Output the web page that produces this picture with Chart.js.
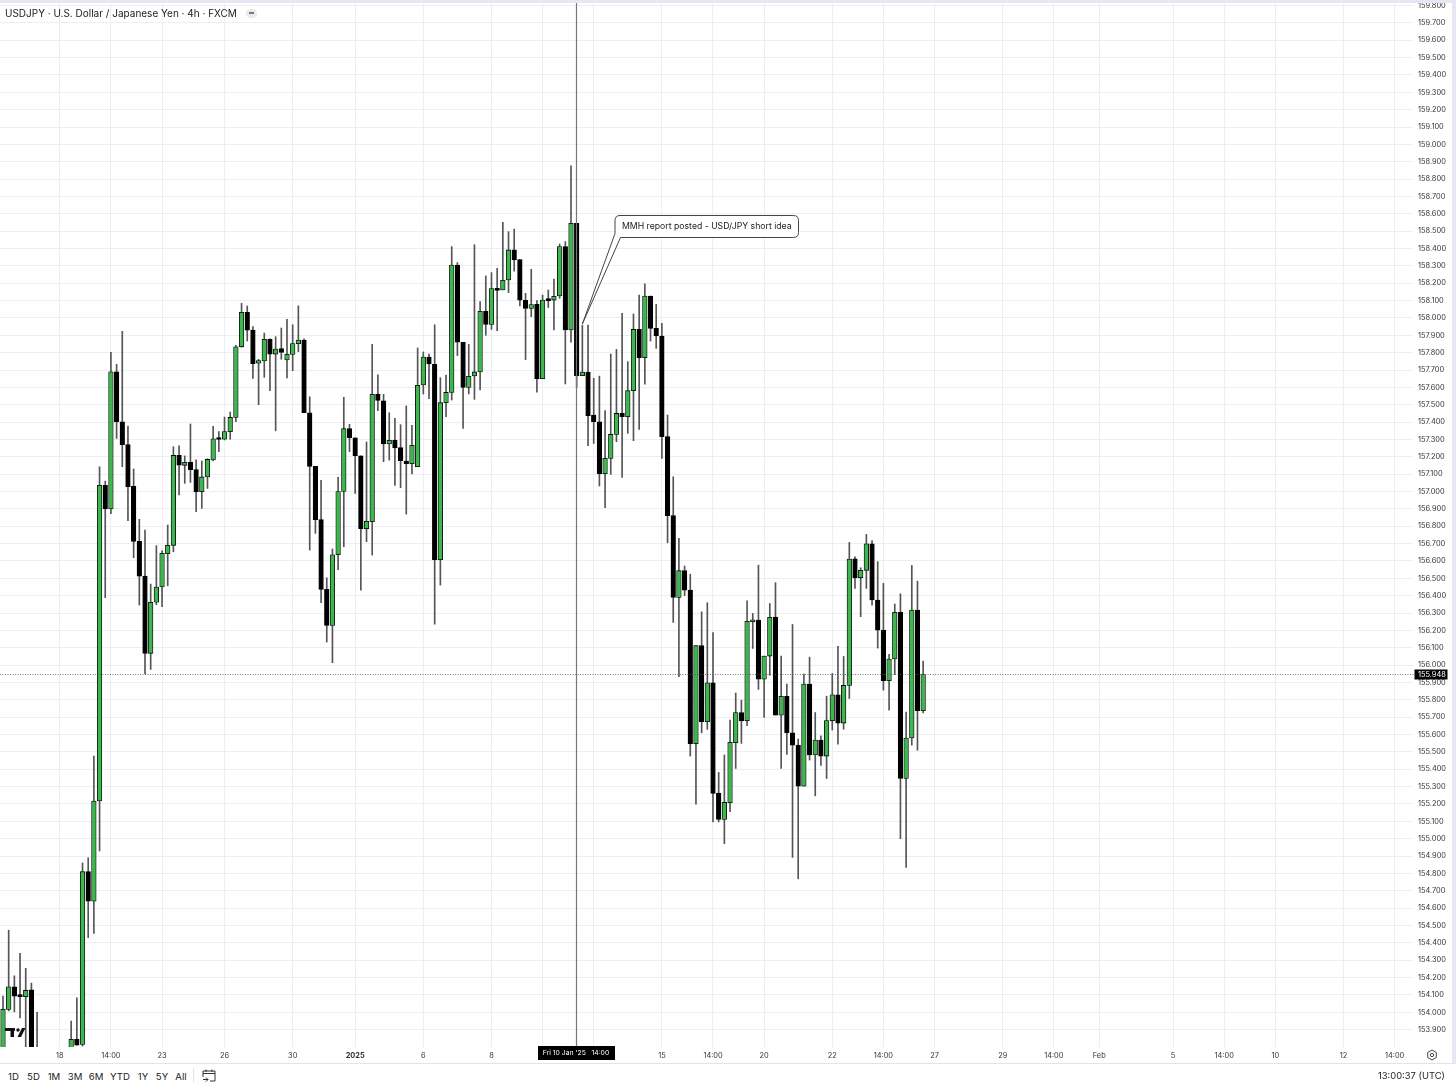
<!DOCTYPE html>
<html>
<head>
<meta charset="utf-8">
<script src="https://cdn.jsdelivr.net/npm/chart.js@4/dist/chart.umd.min.js"></script>
<style>
html,body{margin:0;padding:0;background:#fff;overflow:hidden;width:1456px;height:1084px}
body{position:relative;font-family:Inter,"Noto Sans",sans-serif;color:#222}
canvas{position:absolute;left:0;top:0}
#topbar{position:absolute;left:0;top:0;width:1456px;height:3px;background:#e6e7f3}
#rightbar{position:absolute;right:0;top:0;width:4px;height:1063px;background:#e6e7f3}
#title{position:absolute;left:5px;top:6px;font-size:10px;line-height:14px;white-space:nowrap;color:#222}
#pill{position:absolute;left:245.5px;top:8.5px;width:11px;height:9px;border-radius:5px;background:#e9eaf0}
#pill i{position:absolute;left:3px;top:3.8px;width:5px;height:1.4px;background:#777}
#bottom{position:absolute;left:0;top:1063px;width:1456px;height:21px;border-top:1px solid #e2e3ee;box-sizing:border-box;background:#fff}
.rng{position:absolute;top:6px;font-size:9.6px;line-height:13px;transform:translateX(-50%);white-space:nowrap;color:#222}
#sep{position:absolute;left:193px;top:4px;width:1px;height:15px;background:#e2e3ee}
#clock{position:absolute;right:11px;top:5px;font-size:9.4px;line-height:14px;color:#222;white-space:nowrap}
#cal{position:absolute;left:202px;top:4px}
#gear{position:absolute;left:1426px;top:1049px}
</style>
</head>
<body>
<canvas id="c" width="1456" height="1063"></canvas>
<div id="topbar"></div>
<div id="rightbar"></div>
<div id="title">USDJPY · U.S. Dollar / Japanese Yen · 4h · FXCM</div>
<div id="pill"><i></i></div>
<svg id="gear" width="12" height="12" viewBox="0 0 12 12"><path d="M6 1 L10.3 3.5 V8.5 L6 11 L1.700 8.500 V3.500 Z" fill="none" stroke="#444" stroke-width="1"/><circle cx="6" cy="6" r="1.700" fill="none" stroke="#444" stroke-width="1"/></svg>
<div id="bottom">
  <div id="sep"></div>
  <svg id="cal" width="14" height="15" viewBox="0 0 14 15"><path d="M1 9 V3 H13 V13 H8 M1 5.500 H13 M4 1.500 V4 M10 1.500 V4 M1 11.500 H6 M4 9.500 L6 11.500 L4 13.500" fill="none" stroke="#333" stroke-width="1"/></svg>
  <div id="clock">13:00:37 (UTC)</div>
</div>
<script>
const opens = [
153.72,154.016,154.147,154.10,154.089,154.13,153.75,153.62,153.55,153.50,
153.48,153.58,153.68,153.844,153.815,154.81,154.64,155.217,157.036,156.90,
157.69,157.402,157.27,157.03,156.713,156.513,156.068,156.362,156.45,156.642,
156.69,157.208,157.151,157.168,157.126,156.999,157.084,157.182,157.305,157.301,
157.345,157.427,157.834,158.032,157.93,157.739,157.752,157.877,157.792,157.823,
157.758,157.79,157.852,157.873,157.454,157.145,156.838,156.436,156.229,156.636,
157.0,157.362,157.31,157.206,156.786,156.826,157.562,157.523,157.274,157.295,
157.253,157.176,157.16,157.143,157.614,157.775,157.733,156.607,157.512,157.571,
158.305,157.86,157.6,157.666,157.689,158.038,157.963,158.171,158.161,158.219,
158.392,158.336,158.102,158.055,158.078,157.65,158.102,158.103,158.127,158.411,
157.931,158.545,157.667,157.688,157.441,157.402,157.103,157.191,157.329,157.45,
157.431,157.581,157.934,157.771,158.126,157.94,157.896,157.316,156.861,156.39,
156.544,156.432,155.547,156.112,155.674,155.898,155.263,155.111,155.207,155.553,
155.727,155.679,156.25,156.259,155.919,156.052,156.277,155.712,155.82,155.61,
155.539,155.303,155.891,155.483,155.568,155.476,155.679,155.829,155.666,155.883,
156.613,156.503,156.546,156.699,156.375,156.202,155.91,156.035,156.304,155.347,
155.58,156.317,155.737
];
const highs = [
154.093,154.473,154.21,154.339,154.253,154.168,154.0,153.72,153.66,153.6,
153.62,153.7,153.949,154.083,154.86,154.89,155.476,157.143,157.06,157.802,
157.733,157.923,157.377,157.13,156.84,156.778,156.467,156.688,156.659,156.807,
157.258,157.264,157.205,157.389,157.182,157.176,157.189,157.376,157.345,157.429,
157.458,157.842,158.084,158.069,157.95,157.762,157.913,157.879,157.892,157.942,
157.992,157.961,158.07,157.879,157.546,157.145,157.064,156.503,156.669,157.082,
157.543,157.387,157.31,157.206,157.285,157.848,157.673,157.56,157.454,157.422,
157.385,157.493,157.381,157.827,157.804,157.792,157.96,157.656,157.671,158.411,
158.319,157.86,157.848,158.422,158.094,158.242,158.261,158.286,158.551,158.497,
158.512,158.336,158.142,158.28,158.1,158.132,158.161,158.224,158.426,158.44,
158.876,158.545,157.959,157.959,157.652,157.665,157.466,157.792,157.819,158.026,
157.748,158.023,158.132,158.197,158.126,158.078,157.969,157.441,157.085,156.73,
156.571,156.524,156.112,156.307,156.359,156.188,155.382,155.482,155.683,155.839,
155.798,156.371,156.298,156.576,156.052,156.355,156.475,156.052,155.891,156.234,
155.574,155.948,156.046,155.727,155.593,155.821,155.952,156.108,156.05,156.707,
156.624,156.561,156.753,156.717,156.596,156.471,156.062,156.352,156.411,155.729,
156.574,156.484,156.023
];
const lows = [
153.66,154.008,154.003,153.968,153.76,153.68,153.55,153.50,153.45,153.40,
153.42,153.50,153.64,153.81,153.805,154.43,154.454,154.93,156.388,156.872,
157.306,157.143,156.832,156.619,156.346,155.95,155.975,156.348,156.336,156.457,
156.653,156.98,157.047,157.053,156.884,156.903,157.018,157.176,157.229,157.297,
157.301,157.402,157.831,157.867,157.652,157.50,157.658,157.581,157.35,157.762,
157.654,157.696,157.806,157.454,156.663,156.759,156.36,156.133,156.014,156.55,
156.682,157.23,156.989,156.432,156.711,156.634,157.466,157.172,157.181,157.035,
157.022,156.87,157.101,157.143,157.562,157.535,156.236,156.461,157.431,157.527,
157.783,157.364,157.562,157.531,157.585,157.9,157.934,157.927,158.161,158.146,
158.27,158.069,157.76,158.007,157.573,157.65,158.06,157.931,158.113,157.62,
157.86,157.6,157.667,157.264,157.277,157.032,156.907,157.099,157.287,157.082,
157.335,157.293,157.358,157.619,157.867,157.825,157.191,156.705,156.246,155.933,
156.4,155.476,155.199,155.61,155.63,155.097,155.097,154.971,155.155,155.405,
155.549,155.651,156.096,155.86,155.699,155.942,155.712,155.405,155.485,154.892,
154.769,155.303,155.453,155.247,155.422,155.347,155.626,155.545,155.631,155.808,
156.442,156.279,156.442,156.346,156.098,155.856,155.741,155.946,155.0,154.834,
155.539,155.51,155.725
];
const closes = [
154.018,154.147,154.093,154.09,154.126,153.75,153.62,153.55,153.50,153.48,
153.58,153.68,153.844,153.81,154.81,154.64,155.217,157.036,156.90,157.69,
157.402,157.27,157.028,156.713,156.513,156.068,156.362,156.45,156.644,156.69,
157.208,157.152,157.168,157.126,156.999,157.084,157.185,157.304,157.30,157.345,
157.427,157.834,158.032,157.93,157.736,157.754,157.877,157.792,157.821,157.802,
157.79,157.852,157.873,157.454,157.145,156.838,156.436,156.229,156.636,157.0,
157.362,157.31,157.206,156.786,156.828,157.56,157.525,157.274,157.295,157.251,
157.178,157.16,157.266,157.612,157.775,157.735,156.607,157.512,157.571,158.305,
157.86,157.6,157.664,157.689,158.038,157.963,158.169,158.159,158.217,158.392,
158.334,158.102,158.055,158.077,157.65,158.103,158.10,158.125,158.411,157.931,
158.545,157.667,157.688,157.437,157.402,157.103,157.191,157.329,157.45,157.431,
157.581,157.934,157.771,158.126,157.94,157.896,157.316,156.861,156.39,156.544,
156.432,155.547,156.112,155.674,155.898,155.261,155.111,155.209,155.555,155.727,
155.679,156.252,156.259,155.919,156.052,156.275,155.712,155.82,155.61,155.539,
155.303,155.891,155.483,155.568,155.476,155.681,155.829,155.666,155.883,156.611,
156.503,156.546,156.699,156.375,156.202,155.91,156.035,156.304,155.347,155.58,
156.317,155.737,155.946
];
const timeTickIndex = [10,19,28,39,51,62,74,86,95,104,116,125,134,146,155,164,176,185,193,206,215,224,236,245];
const timeTickLabel = ["18","14:00","23","26","30","2025","6","8","10","14:00","15","14:00","20","22","14:00","27","29","14:00","Feb","5","14:00","10","12","14:00"];
const priceTicks = [153.9,154,154.1,154.2,154.3,154.4,154.5,154.6,154.7,154.8,154.9,155,155.1,155.2,155.3,155.4,155.5,155.6,155.7,155.8,155.9,156,156.1,156.2,156.3,156.4,156.5,156.6,156.7,156.8,156.9,157,157.1,157.2,157.3,157.4,157.5,157.6,157.7,157.8,157.9,158,158.1,158.2,158.3,158.4,158.5,158.6,158.7,158.8,158.9,159,159.1,159.2,159.3,159.4,159.5,159.6,159.7,159.8];
const lastPrice = 155.948;
const crosshairIndex = 101;
const crosshairLabel = "Fri 10 Jan '25   14:00";
const noteIndex = 102;
const notePrice = 157.965;
const noteText = "MMH report posted - USD/JPY short idea";
const rangeButtons = ["1D","5D","1M","3M","6M","YTD","1Y","5Y","All"];
const rangeCenters = [13.5,33.5,54,75,96,120,143,162,181];

const bottomBar = document.getElementById('bottom');
rangeButtons.forEach((t,i)=>{
  const d=document.createElement('div');d.className='rng';d.textContent=t;d.style.left=rangeCenters[i]+'px';bottomBar.appendChild(d);
});

const UP='#3fb54f', DOWN='#000';
const wickData = lows.map((l,i)=>({x:i,y:[l,highs[i]]}));
const bodyData = opens.map((o,i)=>({x:i,y:[o,closes[i]]}));

const FONT='Inter, "Noto Sans", sans-serif';
const overlay = {
  id:'overlay',
  afterDraw(chart){
    const {ctx,chartArea:a,scales:{x,y}}=chart;
    ctx.save();
    // last price dotted line
    const py=Math.round(y.getPixelForValue(lastPrice))+.5;
    ctx.strokeStyle='#555';ctx.lineWidth=.8;ctx.setLineDash([1,1.5]);
    ctx.beginPath();ctx.moveTo(0,py);ctx.lineTo(a.right+2,py);ctx.stroke();ctx.setLineDash([]);
    // crosshair
    const cx=Math.floor(x.getPixelForValue(crosshairIndex))+.5;
    ctx.strokeStyle='#787878';ctx.lineWidth=1.2;
    ctx.beginPath();ctx.moveTo(cx,0);ctx.lineTo(cx,a.bottom);ctx.stroke();
    // callout
    const tx=x.getPixelForValue(noteIndex), ty=y.getPixelForValue(notePrice);
    const L=615,R=798.5,T=215.5,B=237.5,r=5;
    ctx.beginPath();
    ctx.moveTo(L+r,T);ctx.lineTo(R-r,T);ctx.quadraticCurveTo(R,T,R,T+r);
    ctx.lineTo(R,B-r);ctx.quadraticCurveTo(R,B,R-r,B);
    ctx.lineTo(L+5.5,B);ctx.lineTo(tx,ty);ctx.lineTo(L,B-4);
    ctx.lineTo(L,T+r);ctx.quadraticCurveTo(L,T,L+r,T);ctx.closePath();
    ctx.fillStyle='#fff';ctx.fill();
    ctx.strokeStyle='#444';ctx.lineWidth=1;ctx.stroke();
    ctx.fillStyle='#222';ctx.font='8.7px '+FONT;ctx.textAlign='left';ctx.textBaseline='middle';
    ctx.fillText(noteText,L+7,226.3);
    // logo
    ctx.fillStyle='#111';
    ctx.fillRect(5,1028,10,3);ctx.fillRect(10.5,1028,3.5,9);
    ctx.beginPath();ctx.arc(18,1030,1.7,0,Math.PI*2);ctx.fill();
    ctx.beginPath();ctx.moveTo(22,1028);ctx.lineTo(25.5,1028);ctx.lineTo(21,1037);ctx.lineTo(17.5,1037);ctx.closePath();ctx.fill();
    // price tag
    ctx.fillStyle='#000';ctx.fillRect(a.right+1.5,py-5,33,10);
    ctx.fillStyle='#fff';ctx.font='7.4px '+FONT;ctx.textAlign='left';
    ctx.fillText(lastPrice.toFixed(3),a.right+5,py+.3);
    // time tag
    ctx.fillStyle='#000';ctx.fillRect(538,1046,77,14);
    ctx.fillStyle='#fff';ctx.font='6.8px '+FONT;ctx.textAlign='center';
    ctx.fillText(crosshairLabel,576,1053.3);
    ctx.restore();
  }
};

new Chart(document.getElementById('c').getContext('2d'),{
  type:'bar',
  data:{datasets:[
    {data:wickData,barThickness:1,backgroundColor:'#555',borderWidth:0,grouped:false,order:2},
    {data:bodyData,barThickness:4.6,grouped:false,order:1,minBarLength:2,borderSkipped:false,borderWidth:0.8,borderColor:'#000',
     backgroundColor:c=>closes[c.dataIndex]>=opens[c.dataIndex]?UP:DOWN}
  ]},
  plugins:[overlay],
  options:{
    responsive:false,animation:false,devicePixelRatio:1,
    layout:{padding:{top:3,left:0,right:0,bottom:0},autoPadding:false},
    plugins:{legend:{display:false},title:{display:false},tooltip:{enabled:false}},
    scales:{
      x:{type:'linear',offset:false,min:-0.528,max:248.24,
        grid:{color:'#eceef4',lineWidth:1,offset:false,drawTicks:false},
        border:{display:false},
        afterBuildTicks:s=>{s.ticks=timeTickIndex.map(v=>({value:v}));},
        afterFit:s=>{s.height=16;s.paddingLeft=0;s.paddingRight=0;s.paddingTop=0;s.paddingBottom=0;},
        ticks:{autoSkip:false,maxRotation:0,minRotation:0,padding:4,color:'#333',
          font:c=>({family:FONT,size:7.4,weight:(c.tick&&c.tick.label==='2025')?'700':'400'}),
          callback:v=>{const k=timeTickIndex.indexOf(v);return k<0?'':timeTickLabel[k];}}
      },
      y:{type:'linear',position:'right',min:153.8,max:159.8144,
        grid:{color:'#eceef4',lineWidth:1,drawTicks:false},
        border:{display:false},
        afterBuildTicks:s=>{s.ticks=priceTicks.map(v=>({value:v}));},
        afterFit:s=>{s.width=43;s.paddingLeft=0;s.paddingRight=0;s.paddingTop=0;s.paddingBottom=0;},
        ticks:{autoSkip:false,padding:5,color:'#333',font:{family:FONT,size:7.4},
          callback:v=>v.toFixed(3)}
      }
    }
  }
});
</script>
</body>
</html>
